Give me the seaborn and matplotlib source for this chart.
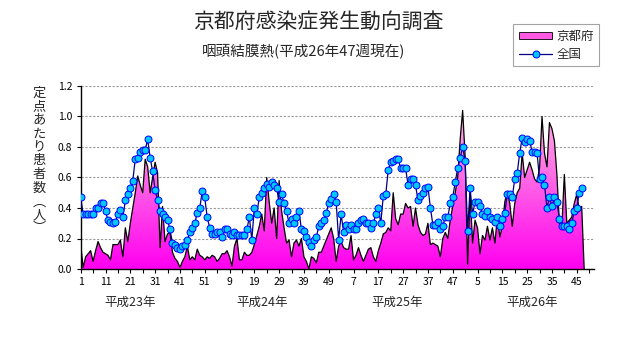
import numpy as np
import pandas as pd
import matplotlib
matplotlib.use("Agg")
import matplotlib.pyplot as plt
import seaborn as sns
from matplotlib.patches import PathPatch, Patch
from matplotlib.lines import Line2D
from matplotlib.colors import LinearSegmentedColormap
import matplotlib.transforms as mtransforms

# ---------------- data ----------------
title = "京都府感染症発生動向調査"
subtitle = "咽頭結膜熱(平成26年47週現在)"
ylabel_chars = ["定", "点", "あ", "た", "り", "患", "者", "数", "︵", "人", "︶"]
series_names = ["京都府", "全国"]
year_labels = ["平成23年", "平成24年", "平成25年", "平成26年"]
weeks_per_year = [52, 52, 52, 52]          # categories shown on the axis
yticks = [0.0, 0.2, 0.4, 0.6, 0.8, 1.0, 1.2]

kyoto_2011 = [0.16, 0.01, 0.08, 0.10, 0.12, 0.05, 0.12, 0.18, 0.14, 0.11,
              0.10, 0.09, 0.06, 0.16, 0.16, 0.16, 0.19, 0.08, 0.27, 0.18,
              0.30, 0.40, 0.50, 0.61, 0.55, 0.50, 0.72, 0.67, 0.50, 0.60,
              0.70, 0.63, 0.14, 0.41, 0.18, 0.23, 0.24, 0.11, 0.07, 0.05,
              0.01, 0.05, 0.08, 0.15, 0.06, 0.08, 0.06, 0.13, 0.09, 0.08,
              0.06, 0.08]
kyoto_2012 = [0.07, 0.09, 0.08, 0.05, 0.07, 0.10, 0.10, 0.12, 0.08, 0.02,
              0.15, 0.20, 0.06, 0.06, 0.11, 0.09, 0.09, 0.11, 0.16, 0.22,
              0.28, 0.36, 0.25, 0.60, 0.44, 0.30, 0.40, 0.20, 0.58, 0.38,
              0.27, 0.17, 0.19, 0.08, 0.17, 0.19, 0.15, 0.20, 0.08, 0.05,
              0.00, 0.08, 0.07, 0.04, 0.11, 0.11, 0.15, 0.19, 0.23, 0.27,
              0.20, 0.05]
kyoto_2013 = [0.15, 0.18, 0.14, 0.13, 0.13, 0.22, 0.06, 0.09, 0.14, 0.09,
              0.05, 0.09, 0.13, 0.14, 0.08, 0.05, 0.12, 0.17, 0.23, 0.24,
              0.27, 0.25, 0.50, 0.33, 0.29, 0.36, 0.36, 0.43, 0.40, 0.41,
              0.28, 0.40, 0.29, 0.24, 0.22, 0.23, 0.30, 0.16, 0.17, 0.16,
              0.15, 0.08, 0.20, 0.24, 0.20, 0.32, 0.41, 0.50, 0.60, 0.85,
              1.04, 0.74]
kyoto_2014 = [0.03, 0.50, 0.17, 0.32, 0.27, 0.10, 0.22, 0.19, 0.28, 0.19,
              0.27, 0.17, 0.34, 0.21, 0.28, 0.44, 0.51, 0.43, 0.28, 0.43,
              0.50, 0.53, 0.76, 0.60, 0.65, 0.70, 0.65, 0.59,
              0.57, 0.66, 1.00, 0.76, 0.67, 0.96, 0.92, 0.84, 0.62, 0.30,
              0.28, 0.62, 0.30, 0.32, 0.34, 0.43, 0.49, 0.39, 0.41]
kyoto_pending = [0.0]   # 2014 week 48 not yet reported (source plots it as 0)

national_2011 = [0.47, 0.36, 0.36, 0.36, 0.36, 0.36, 0.40, 0.40, 0.43, 0.43,
                 0.38, 0.32, 0.31, 0.30, 0.31, 0.36, 0.39, 0.34, 0.45, 0.49,
                 0.53, 0.58, 0.72, 0.73, 0.77, 0.78, 0.78, 0.85, 0.73, 0.64,
                 0.52, 0.45, 0.38, 0.36, 0.34, 0.32, 0.26, 0.17, 0.16, 0.14,
                 0.13, 0.15, 0.16, 0.19, 0.24, 0.27, 0.30, 0.37, 0.40, 0.51,
                 0.47, 0.34]
national_2012 = [0.27, 0.23, 0.23, 0.24, 0.24, 0.21, 0.26, 0.26, 0.23, 0.22,
                 0.24, 0.22, 0.22, 0.22, 0.22, 0.26, 0.34, 0.19, 0.40, 0.36,
                 0.47, 0.50, 0.53, 0.56, 0.54, 0.57, 0.55, 0.53, 0.44, 0.49,
                 0.43, 0.38, 0.30, 0.33, 0.30, 0.34, 0.38, 0.26, 0.25, 0.21,
                 0.18, 0.15, 0.19, 0.21, 0.28, 0.30, 0.32, 0.37, 0.43, 0.46,
                 0.49, 0.44]
national_2013 = [0.19, 0.36, 0.24, 0.29, 0.26, 0.29, 0.26, 0.26, 0.30, 0.32,
                 0.33, 0.30, 0.30, 0.27, 0.30, 0.36, 0.40, 0.30, 0.48, 0.49,
                 0.65, 0.70, 0.71, 0.72, 0.72, 0.66, 0.66, 0.66, 0.55, 0.59,
                 0.59, 0.55, 0.45, 0.48, 0.50, 0.53, 0.54, 0.40, 0.29, 0.29,
                 0.31, 0.26, 0.28, 0.34, 0.34, 0.43, 0.47, 0.57, 0.66, 0.73,
                 0.80, 0.71]
national_2014 = [0.25, 0.53, 0.36, 0.44, 0.44, 0.41, 0.36, 0.35, 0.38, 0.34,
                 0.33, 0.31, 0.34, 0.28, 0.33, 0.37, 0.49, 0.49, 0.47, 0.59,
                 0.63, 0.76, 0.86, 0.83, 0.85, 0.84, 0.77, 0.77, 0.76, 0.59,
                 0.60, 0.55, 0.40, 0.47, 0.41, 0.47, 0.44, 0.33, 0.28, 0.28,
                 0.28, 0.26, 0.30, 0.38, 0.40, 0.50, 0.53]

# ---------------- assemble ----------------
kyoto = kyoto_2011 + kyoto_2012 + kyoto_2013 + kyoto_2014
national = national_2011 + national_2012 + national_2013 + national_2014
kyoto_area = kyoto + kyoto_pending
week_numbers = sum([list(range(1, w + 1)) for w in weeks_per_year], [])
n_cat = len(week_numbers)

df_nat = pd.DataFrame({"idx": np.arange(len(national)), "value": national})
df_kyo = pd.DataFrame({"idx": np.arange(len(kyoto_area)), "value": kyoto_area})

sns.set_theme(style="white")
plt.rcParams["font.family"] = ["Noto Sans CJK JP", "DejaVu Sans"]
plt.rcParams["axes.unicode_minus"] = False

W, H = 631, 347
fig = plt.figure(figsize=(W / 100, H / 100), dpi=100)
fig.patch.set_facecolor("white")
ax = fig.add_axes([80.7 / W, (H - 269) / H, 513.4 / W, 183 / H])
ax.set_facecolor("white")

# gradient-filled area (Kyoto)
poly = ax.fill_between(df_kyo["idx"], df_kyo["value"], 0,
                       facecolor="none", edgecolor="none")
clip = PathPatch(poly.get_paths()[0], transform=ax.transData,
                 facecolor="none", edgecolor="none")
ax.add_patch(clip)
cmap = LinearSegmentedColormap.from_list(
    "pk", ["#FF00F0", "#FF3CEA", "#FF7AE4", "#FFB0E6"])
grad = np.linspace(0, 1, 256).reshape(-1, 1)
im = ax.imshow(grad, extent=[0, n_cat - 1, 0, max(kyoto)], origin="lower",
               aspect="auto", cmap=cmap, zorder=1, interpolation="bilinear")
im.set_clip_path(clip)

sns.lineplot(data=df_kyo, x="idx", y="value", color="black", lw=0.9,
             ax=ax, zorder=2)
sns.lineplot(data=df_nat, x="idx", y="value", color="#000080", lw=0.9,
             marker="o", markersize=5, markerfacecolor="#00C8FF",
             markeredgecolor="#0000FF", markeredgewidth=0.7, ax=ax, zorder=3)

ax.set_xlim(0, n_cat - 1)
ax.set_ylim(0, 1.2)
ax.set_xlabel("")
ax.set_ylabel("")

ax.set_yticks(yticks)
ax.set_yticklabels([f"{v:.1f}" for v in yticks], fontsize=7.5)
major = list(range(0, n_cat, 10))
ax.set_xticks(major)
ax.set_xticklabels([str(week_numbers[i]) for i in major], fontsize=7.5)
ax.set_xticks(list(range(5, n_cat, 10)), minor=True)
ax.tick_params(axis="both", which="both", direction="out", length=3,
               width=0.8, color="black", labelcolor="black", pad=3)
ax.tick_params(axis="x", which="both", bottom=True)
ax.tick_params(axis="y", left=True)

ax.set_axisbelow(True)
ax.yaxis.grid(True, color="#9A9A9A", linestyle=(0, (2, 1.5)), linewidth=0.8)
ax.xaxis.grid(False)
for s in ["top", "right"]:
    ax.spines[s].set_visible(False)
for s in ["left", "bottom"]:
    ax.spines[s].set_color("black")
    ax.spines[s].set_linewidth(1.0)

# titles
fig.text(318 / W, 1 - 22 / H, title, ha="center", va="center", fontsize=15)
fig.text(304 / W, 1 - 52 / H, subtitle, ha="center", va="center", fontsize=10.5)

# vertical y label (stacked characters)
for i, ch in enumerate(ylabel_chars):
    fig.text(39 / W, 1 - (93 + 13.6 * i) / H, ch, ha="center", va="center",
             fontsize=9.5)

# year labels under the axis
trans = mtransforms.blended_transform_factory(ax.transData, fig.transFigure)
for xpos, lab in zip([20, 73, 127.5, 182], year_labels):
    ax.text(xpos, 1 - 302 / H, lab, transform=trans, ha="center", va="center",
            fontsize=9)

# legend
handles = [Patch(facecolor="#FF5AE4", edgecolor="black", linewidth=0.6),
           Line2D([], [], color="#000080", lw=0.9, marker="o", markersize=5,
                  markerfacecolor="#00C8FF", markeredgecolor="#0000FF",
                  markeredgewidth=0.7)]
leg = fig.legend(handles, series_names, loc="upper left",
                 bbox_to_anchor=(513 / W, 1 - 24 / H), frameon=True,
                 fancybox=False, edgecolor="#8C8C8C", fontsize=9,
                 handlelength=2.7, handleheight=0.5, borderpad=0.45,
                 labelspacing=0.4, handletextpad=0.3, borderaxespad=0)
leg.get_frame().set_linewidth(0.8)

fig.savefig("out.png", dpi=100, facecolor="white")
